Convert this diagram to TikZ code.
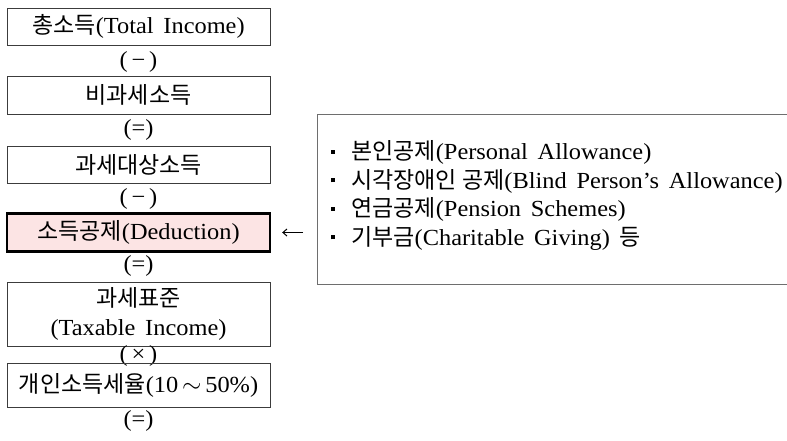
\documentclass[tikz,border=0pt]{standalone}
\usepackage{fontspec}
\setmainfont{Liberation Serif}[FakeStretch=1.06, WordSpace=1.6]
\newfontfamily\krfont{Noto Sans CJK KR}[Scale=1.0]
\newcommand\hg[1]{{\krfont #1}}
\usetikzlibrary{arrows.meta}
\definecolor{boxline}{RGB}{60,60,60}
\definecolor{listline}{RGB}{110,110,110}
\definecolor{pinkfill}{RGB}{252,228,228}
\begin{document}
\begin{tikzpicture}[x=1pt,y=-1pt,
  every node/.style={font=\fontsize{23}{28.5}\selectfont, inner sep=0pt},
  stagebox/.style={draw=boxline, line width=0.9pt, minimum width=263pt, align=center},
  keybox/.style={draw=black, line width=2.4pt, fill=pinkfill, minimum width=263pt, align=center},
  oplabel/.style={}
]
\useasboundingbox (0,0) rectangle (787,440);
\node[stagebox, minimum height=37pt] (b1) at (138.5,26.5) {\hg{총소득}(Total Income)};
\node[oplabel] (o1) at (138.5,62) {(\,−\,)};
\node[stagebox, minimum height=38pt] (b2) at (138.5,95) {\hg{비과세소득}};
\node[oplabel] (o2) at (138.5,129.5) {(=)};
\node[stagebox, minimum height=37pt] (b3) at (138.5,164.5) {\hg{과세대상소득}};
\node[oplabel] (o3) at (138.5,199) {(\,−\,)};
\node[keybox, minimum height=38pt] (b4) at (138.5,232.5) {\hg{소득공제}(Deduction)};
\node[oplabel] (o4) at (138.5,266) {(=)};
\node[stagebox, minimum height=64pt] (b5) at (138.5,314) {\hg{과세표준}\\(Taxable Income)};
\node[oplabel] (o5) at (138.5,356) {(\,×\,)};
\node[stagebox, minimum height=44pt] (b6) at (138.5,385) {\hg{개인소득세율}(10\,$\sim$\,50\%)};
\node[oplabel] (o6) at (138.5,421) {(=)};
\node[draw=listline, line width=1.1pt, minimum width=500pt, minimum height=170pt, anchor=north west] (list) at (317,113.5) {};
\node[anchor=west, align=left] (items) at (331,195.5) {%
\rule[6pt]{4pt}{4pt}\hspace{16pt}\hg{본인공제}(Personal Allowance)\\
\rule[6pt]{4pt}{4pt}\hspace{16pt}\hg{시각장애인 공제}(Blind Person’s Allowance)\\
\rule[6pt]{4pt}{4pt}\hspace{16pt}\hg{연금공제}(Pension Schemes)\\
\rule[6pt]{4pt}{4pt}\hspace{16pt}\hg{기부금}(Charitable Giving) \hg{등}};
\draw[line width=1pt, -{Straight Barb[length=4pt,width=7pt]}, shorten >=11pt, shorten <=14pt] (list.west |- b4.east) -- (b4.east);
\end{tikzpicture}
\end{document}
